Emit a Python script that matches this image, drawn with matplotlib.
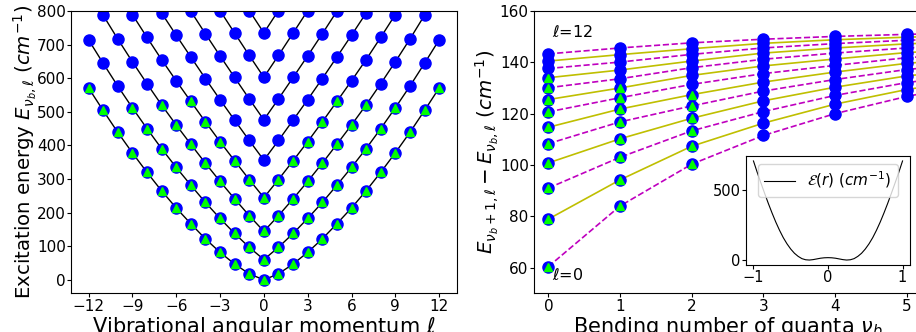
import numpy as np
import matplotlib.pyplot as plt

# angular momentum and bending quanta
ell = np.arange(13)
nu_b = np.arange(7)

# ground bending level E(nu_b=0, l) in cm^-1
E_ground = [0, 18, 47, 82, 122, 167, 214, 265, 320, 378, 439, 504, 571]

# spacings E(nu_b+1, l) - E(nu_b, l), one list per nu_b, indexed by l
gap_nu0 = [60.4, 78.9, 91.0, 100.8, 108.3, 114.7, 120.7, 125.5, 130.1, 134.0, 137.6, 140.5, 143.3]
gap_nu1 = [84.0, 94.2, 103.0, 110.2, 116.8, 121.8, 126.2, 130.0, 133.6, 137.0, 140.1, 143.0, 145.6]
gap_nu2 = [100.3, 107.3, 113.3, 118.2, 123.0, 127.4, 131.4, 134.9, 137.9, 140.5, 143.1, 145.3, 147.6]
gap_nu3 = [111.5, 116.3, 120.8, 125.0, 128.8, 132.3, 135.6, 138.6, 141.2, 143.6, 145.6, 147.4, 149.0]
gap_nu4 = [120.0, 123.7, 127.1, 130.3, 133.3, 136.2, 138.8, 141.3, 143.6, 145.6, 147.3, 148.8, 150.1]
gap_nu5 = [126.7, 129.4, 132.1, 134.7, 137.2, 139.6, 141.8, 143.8, 145.6, 147.2, 148.6, 149.8, 150.9]
gap_nu6 = [132.0, 133.6, 135.6, 137.7, 139.8, 141.8, 143.6, 145.3, 146.8, 148.2, 149.4, 150.5, 151.5]

# number of observed levels (nu_b = 0 .. n-1) for each l
n_obs = [4, 4, 4, 4, 4, 4, 3, 3, 2, 2, 1, 1, 1]

# bending potential along r
r = np.linspace(-1, 1, 41)
pot = [704, 624, 548, 474, 402, 334, 270, 212, 160, 116, 79, 49, 27, 11, 3, 1, 4, 9, 14, 17,
       18, 17, 14, 9, 4, 1, 3, 11, 27, 49, 79, 116, 160, 212, 270, 334, 402, 474, 548, 624, 704]

gaps = np.array([gap_nu0, gap_nu1, gap_nu2, gap_nu3, gap_nu4, gap_nu5, gap_nu6])
levels = np.vstack([np.zeros(13), np.cumsum(gaps, axis=0)]) + np.array(E_ground)

W, H = 916, 332
fig = plt.figure(figsize=(W / 100, H / 100), dpi=100)
ax1 = fig.add_axes([71 / W, 38.7 / H, 385.7 / W, 282.3 / H])
ax2 = fig.add_axes([534 / W, 38.7 / H, 387 / W, 282.3 / H])
ins = fig.add_axes([746 / W, 67 / H, 164 / W, 109 / H])

ms_c, ms_t = 8, 6

# left: energy ladders vs l
ls = np.concatenate([-ell[::-1], ell[1:]])
for v in range(levels.shape[0]):
    e = levels[v]
    ys = np.concatenate([e[::-1], e[1:]])
    ax1.plot(ls, ys, 'k-', lw=1, zorder=1)
    ax1.plot(ls, ys, 'o', color='b', ms=ms_c, zorder=2)
    obs = np.array([v < n_obs[abs(l)] for l in ls])
    ax1.plot(ls[obs], ys[obs], '^', color='lime', ms=ms_t, zorder=3)

ax1.set_xlim(-13.2, 13.2)
ax1.set_ylim(-40, 800)
ax1.set_xticks(np.arange(-12, 13, 3))
ax1.set_yticks(np.arange(0, 801, 100))
ax1.set_xlabel(r'Vibrational angular momentum $\ell$', fontsize=15, labelpad=1)
ax1.set_ylabel(r'Excitation energy $E_{\nu_b,\ell}\ (cm^{-1})$', fontsize=14.2, labelpad=-1.5)

# right: bending spacings vs nu_b
for l in ell:
    style = 'm--' if l % 2 == 0 else 'y-'
    ax2.plot(nu_b, gaps[:, l], style, lw=1.2, zorder=1)
    ax2.plot(nu_b, gaps[:, l], 'o', color='b', ms=ms_c, zorder=2)
    obs = nu_b < n_obs[l] - 1
    ax2.plot(nu_b[obs], gaps[obs, l], '^', color='lime', ms=ms_t, zorder=3)

ax2.text(0.05, 150, r'$\ell$=12', fontsize=11.5)
ax2.text(0.05, 55, r'$\ell$=0', fontsize=11.5)
ax2.set_xlim(-0.2, 5.2)
ax2.set_ylim(50, 160)
ax2.set_xlabel(r'Bending number of quanta $\nu_b$', fontsize=15, labelpad=1)
ax2.set_ylabel(r'$E_{\nu_b+1,\ell}-E_{\nu_b,\ell}\ (cm^{-1})$', fontsize=14.2, labelpad=-1)

# inset: potential
ins.plot(r, pot, 'k-', lw=0.8, label=r'$\mathcal{E}(r)\ (cm^{-1})$')
ins.set_xticks([-1, 0, 1])
ins.set_yticks([0, 500])
ins.legend(loc='upper center', fontsize=11)

for ax in (ax1, ax2):
    ax.tick_params(labelsize=11, length=3, pad=0.8)
ins.tick_params(labelsize=10.5, length=3, pad=0.8)

fig.savefig('out.png', dpi=100)
